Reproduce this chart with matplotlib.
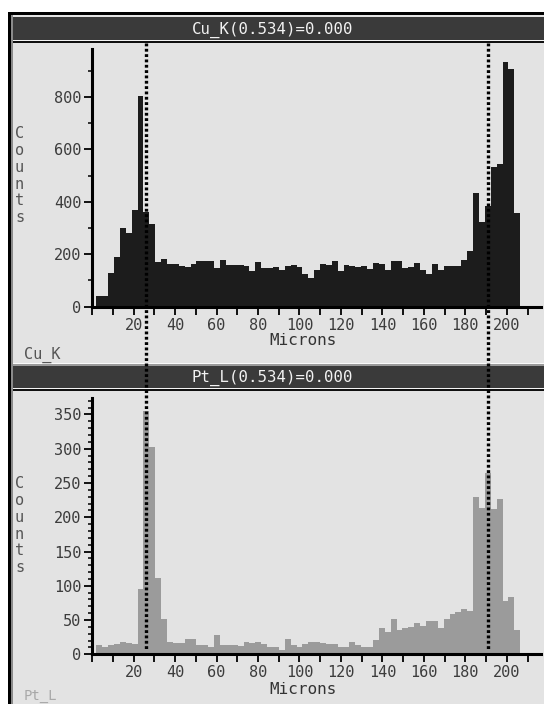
import numpy as np
import matplotlib
matplotlib.use('Agg')
import matplotlib.pyplot as plt
import matplotlib.transforms as mtransforms
from matplotlib.patches import Rectangle
from matplotlib.lines import Line2D
from matplotlib.ticker import MultipleLocator, FuncFormatter

plt.rcParams['font.family'] = ['DejaVu Sans Mono']

# line scan, 72 channels
bin_start = 2.0
bin_width = 2.84
cu_k = [40, 40, 127, 190, 301, 282, 368, 804, 360, 314,
        172, 183, 164, 164, 155, 151, 164, 173, 173, 173,
        149, 180, 158, 159, 158, 155, 137, 169, 146, 146,
        153, 140, 155, 158, 153, 123, 111, 140, 162, 160,
        174, 137, 158, 155, 150, 154, 145, 165, 162, 140,
        176, 176, 146, 153, 168, 140, 125, 162, 140, 156,
        156, 156, 178, 212, 433, 324, 384, 532, 545, 933,
        906, 356]
pt_l = [14, 11, 13, 15, 18, 17, 15, 95, 355, 302,
        112, 52, 18, 16, 17, 22, 23, 14, 14, 10,
        28, 13, 14, 14, 12, 18, 16, 18, 15, 10,
        10, 7, 22, 14, 10, 15, 18, 18, 16, 15,
        15, 11, 10, 18, 14, 11, 11, 21, 38, 32,
        51, 35, 39, 40, 46, 41, 49, 49, 39, 51,
        59, 61, 66, 63, 229, 213, 265, 212, 226, 78,
        83, 35]
cursors = [26.1, 191.1]
cu_title = 'Cu_K(0.534)=0.000'
pt_title = 'Pt_L(0.534)=0.000'

edges = bin_start + bin_width * np.arange(len(cu_k) + 1)

W, H = 544, 704
fig = plt.figure(figsize=(W / 100, H / 100), dpi=100)
fig.patch.set_facecolor('white')


def fx(px):
    return px / W


def fy(py):
    return 1 - py / H


def rect(x0, y0, x1, y1, color):
    fig.add_artist(Rectangle((fx(x0), fy(y1)), fx(x1) - fx(x0), fy(y0) - fy(y1),
                             transform=fig.transFigure, facecolor=color,
                             edgecolor='none', zorder=-2))


# window frame and panel backgrounds
rect(13, 14, 544, 704, '#e3e3e3')
rect(8, 12, 544, 14.5, 'black')
rect(8, 12, 10.5, 704, 'black')
rect(10.5, 14.5, 13, 704, '#8a8a8a')

rect(13, 17, 544, 40, '#3a3a3a')
rect(13, 40, 544, 41, '#f4f4f4')
rect(13, 41, 544, 42.5, '#111111')

rect(13, 363, 544, 364.5, '#fafafa')
rect(13, 364.5, 544, 366, '#9a9a9a')
rect(13, 366, 544, 388, '#3a3a3a')
rect(13, 388, 544, 389.5, '#f4f4f4')
rect(13, 389.5, 544, 391, '#111111')

fig.text(fx(272.5), fy(29.5), cu_title, color='#f2f2f2', fontsize=11.3,
         ha='center', va='center')
fig.text(fx(272.5), fy(377.5), pt_title, color='#f2f2f2', fontsize=11.3,
         ha='center', va='center')
fig.text(fx(24), fy(355), 'Cu_K', color='#555555', fontsize=11, va='center')
fig.text(fx(24), fy(703), 'Pt_L', color='#a8a8a8', fontsize=10, va='bottom')

ax1 = fig.add_axes([fx(92.2), fy(306.7), (541 - 92.2) / W, (306.7 - 49.3) / H])
ax2 = fig.add_axes([fx(92.2), fy(654.3), (541 - 92.2) / W, (654.3 - 398) / H])

ax1.stairs(cu_k, edges, fill=True, color='#1c1c1c')
ax2.stairs(pt_l, edges, fill=True, color='#9b9b9b')
ax1.set_ylim(0, 982)
ax2.set_ylim(0, 374)
ax1.yaxis.set_major_locator(MultipleLocator(200))
ax1.yaxis.set_minor_locator(MultipleLocator(100))
ax2.yaxis.set_major_locator(MultipleLocator(50))
ax2.yaxis.set_minor_locator(MultipleLocator(10))

xfmt = FuncFormatter(lambda v, pos: f'{v:.0f}' if v > 0 and round(v) % 20 == 0 else '')
for ax in (ax1, ax2):
    ax.set_facecolor('none')
    ax.set_xlim(0, 216.5)
    ax.xaxis.set_major_locator(MultipleLocator(10))
    ax.xaxis.set_major_formatter(xfmt)
    for s in ('top', 'right'):
        ax.spines[s].set_visible(False)
    for s in ('left', 'bottom'):
        ax.spines[s].set_linewidth(2.2)
        ax.spines[s].set_color('black')
    ax.tick_params(which='major', length=6, width=1.3, direction='out', pad=2,
                   labelsize=11, labelcolor='#3c3c3c')
    ax.tick_params(which='minor', length=3, width=1.1, direction='out')

# axis titles
for top, ybase in ((333.3, 134), (681.7, 484)):
    fig.text(fx(303), fy(top), 'Microns', color='#333333', fontsize=11.5,
             ha='center', va='top')
    for i, ch in enumerate('Counts'):
        fig.text(fx(19.5), fy(ybase + i * 16.7), ch, color='#555555',
                 fontsize=11, ha='center', va='center')

# cursor lines across both panels
trans = mtransforms.blended_transform_factory(ax1.transData, fig.transFigure)
for c in cursors:
    fig.add_artist(Line2D([c, c], [fy(43), fy(650)], transform=trans,
                          color='black', lw=2.4, linestyle=(0, (0.85, 0.75)),
                          dash_capstyle='butt', zorder=5))

fig.savefig('out.png', dpi=100)
